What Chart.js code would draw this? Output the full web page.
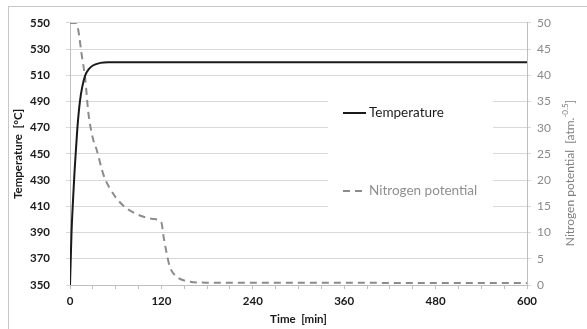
<!DOCTYPE html>
<html lang="en">

<head>
    <meta charset="UTF-8">
    <title>Temperature and Nitrogen Potential</title>
    <style>
        body {
            margin: 0;
            background: #ffffff;
        }

        canvas {
            display: block;
        }
    </style>
</head>

<body>

    <canvas id="nitridingChart" width="587" height="329"></canvas>

    <script src="https://cdn.jsdelivr.net/npm/chart.js"></script>
    <script>
        // values
        const tempTime = [0, 2, 4, 6, 8, 10, 13, 16, 20, 25, 30, 40, 50, 600];
        const tempValue = [350, 390, 415, 437, 455, 472, 490, 501, 510, 515, 517.5, 519.5, 520, 520];

        const nitroTime = [0, 8, 11, 15, 20, 24, 30, 35, 44, 52, 68, 88, 109, 120, 123, 127, 131, 140, 153, 179, 600];
        const nitroValue = [50, 50, 48.5, 44.3, 39.3, 33, 28, 25.8, 21, 18.5, 15.4, 13.5, 12.6, 11.9, 9.1, 6, 3.5, 1.6, 0.75, 0.45, 0.4];

        const FONT = "Lato, 'Open Sans', sans-serif";

        const toPoints = (xs, ys) => xs.map((x, i) => ({ x: x, y: ys[i] }));

        // frame round the whole chart
        const framePlugin = {
            id: 'frame',
            beforeDraw(chart) {
                const c = chart.ctx;
                c.save();
                c.fillStyle = '#ffffff';
                c.fillRect(0, 0, chart.width, chart.height);
                c.strokeStyle = '#c8c8c8';
                c.lineWidth = 1;
                c.strokeRect(8.5, 6.5, chart.width + 20, chart.height + 20);
                c.restore();
            }
        };

        // legend box sitting inside the plot area
        const innerLegend = {
            id: 'innerLegend',
            beforeDatasetsDraw(chart) {
                const c = chart.ctx;
                c.save();
                c.fillStyle = '#ffffff';
                c.fillRect(328, 82, 165, 140);
                const rows = [113, 191];
                const textColors = ['#1a1a1a', '#8f8f8f'];
                chart.data.datasets.forEach((ds, i) => {
                    const y = rows[i];
                    c.strokeStyle = ds.borderColor;
                    c.lineWidth = 2;
                    c.setLineDash(ds.borderDash || []);
                    c.beginPath();
                    c.moveTo(343, y);
                    c.lineTo(366, y);
                    c.stroke();
                    c.setLineDash([]);
                    c.fillStyle = textColors[i];
                    c.font = "13.5px " + FONT;
                    c.textBaseline = 'middle';
                    c.fillText(ds.label, 369, y);
                });
                c.restore();
            }
        };

        // right axis title reads bottom to top, with a superscript
        const rightTitle = {
            id: 'rightTitle',
            afterDraw(chart) {
                const c = chart.ctx;
                const parts = [
                    { t: 'Nitrogen potential  [atm.', f: "12px " + FONT, dy: 0 },
                    { t: '-0.5', f: "8px " + FONT, dy: -5 },
                    { t: ']', f: "12px " + FONT, dy: 0 }
                ];
                let total = 0;
                parts.forEach(p => { c.font = p.f; p.w = c.measureText(p.t).width; total += p.w; });
                c.save();
                c.translate(570, 173);
                c.rotate(-Math.PI / 2);
                c.fillStyle = '#7f7f7f';
                c.textBaseline = 'middle';
                let x = -total / 2;
                parts.forEach(p => {
                    c.font = p.f;
                    c.fillText(p.t, x, p.dy);
                    x += p.w;
                });
                c.restore();
            }
        };

        const ctx = document.getElementById('nitridingChart').getContext('2d');

        new Chart(ctx, {
            type: 'line',
            data: {
                datasets: [{
                    label: 'Temperature',
                    data: toPoints(tempTime, tempValue),
                    yAxisID: 'y',
                    borderColor: '#1a1a1a',
                    borderWidth: 2,
                    pointRadius: 0,
                    fill: false,
                    cubicInterpolationMode: 'monotone'
                }, {
                    label: 'Nitrogen potential',
                    data: toPoints(nitroTime, nitroValue),
                    yAxisID: 'y2',
                    borderColor: '#8c8c8c',
                    borderWidth: 2,
                    borderDash: [7, 5],
                    pointRadius: 0,
                    fill: false,
                    cubicInterpolationMode: 'monotone'
                }]
            },
            options: {
                responsive: false,
                animation: false,
                devicePixelRatio: 1,
                layout: {
                    padding: { top: 20, left: 0, right: 0, bottom: 0 }
                },
                plugins: {
                    legend: { display: false },
                    tooltip: { enabled: false }
                },
                scales: {
                    x: {
                        type: 'linear',
                        min: 0,
                        max: 600,
                        afterFit: s => { s.height = 44; },
                        border: { color: '#bfbfbf' },
                        grid: {
                            drawOnChartArea: false,
                            drawTicks: true,
                            tickLength: 4,
                            color: '#bfbfbf'
                        },
                        ticks: {
                            stepSize: 30,
                            autoSkip: false,
                            maxRotation: 0,
                            padding: 5,
                            color: '#1a1a1a',
                            font: { family: FONT, size: 11.5, weight: 'bold' },
                            callback: v => (v % 120 === 0 ? v : '')
                        },
                        title: {
                            display: true,
                            text: 'Time  [min]',
                            color: '#1a1a1a',
                            font: { family: FONT, size: 11.5, weight: 'bold' },
                            padding: { top: 0, bottom: 3 }
                        }
                    },
                    y: {
                        position: 'left',
                        min: 350,
                        max: 550,
                        afterFit: s => { s.width = 70; },
                        border: { color: '#bfbfbf' },
                        grid: {
                            color: '#d9d9d9',
                            tickLength: 4
                        },
                        ticks: {
                            stepSize: 20,
                            padding: 16,
                            color: '#1a1a1a',
                            font: { family: FONT, size: 11.5, weight: 'bold' }
                        },
                        title: {
                            display: true,
                            text: 'Temperature  [°C]',
                            color: '#1a1a1a',
                            font: { family: FONT, size: 11.5, weight: 'bold' },
                            padding: { top: 11, bottom: 0 }
                        }
                    },
                    y2: {
                        position: 'right',
                        min: 0,
                        max: 50,
                        afterFit: s => { s.width = 60; },
                        border: { color: '#bfbfbf' },
                        grid: {
                            drawOnChartArea: false,
                            color: '#d9d9d9',
                            tickLength: 4
                        },
                        ticks: {
                            stepSize: 5,
                            padding: 6,
                            color: '#8a8a8a',
                            font: { family: FONT, size: 12 }
                        }
                    }
                }
            },
            plugins: [framePlugin, innerLegend, rightTitle]
        });
    </script>
</body>

</html>
